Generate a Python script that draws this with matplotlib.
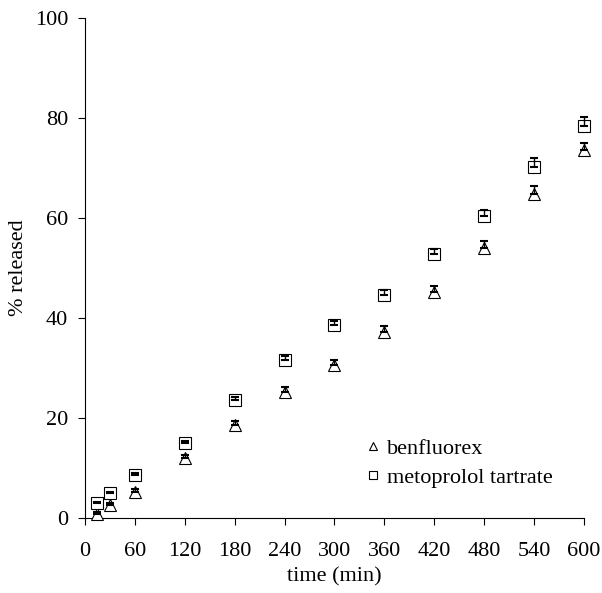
import matplotlib
matplotlib.use("Agg")
import matplotlib.pyplot as plt

plt.rcParams["font.family"] = ["Liberation Serif", "DejaVu Serif"]

time_min = [15, 30, 60, 120, 180, 240, 300, 360, 420, 480, 540, 600]
benfluorex = [0.8, 2.6, 5.2, 12.0, 18.6, 25.2, 30.6, 37.2, 45.2, 54.0, 64.8, 73.6]
benfluorex_err = [0.3, 0.4, 0.5, 0.6, 0.8, 1.0, 1.0, 1.2, 1.2, 1.4, 1.6, 1.4]
metoprolol = [3.0, 5.0, 8.6, 15.0, 23.6, 31.6, 38.6, 44.6, 52.8, 60.4, 70.2, 78.4]
metoprolol_err = [0.2, 0.2, 0.3, 0.4, 0.6, 0.8, 0.8, 1.0, 1.0, 1.2, 1.8, 1.8]

x_ticks = [0, 60, 120, 180, 240, 300, 360, 420, 480, 540, 600]
y_ticks = [0, 20, 40, 60, 80, 100]

fig = plt.figure(figsize=(6.02, 5.93), dpi=100)
ax = fig.add_axes([0.141, 0.1265, 0.829, 0.843])

ax.plot(time_min, benfluorex, linestyle="none", marker="^", ms=9,
        mfc="white", mec="black", mew=0.8, label="benfluorex", clip_on=False, zorder=3)
ax.plot(time_min, metoprolol, linestyle="none", marker="s", ms=8,
        mfc="white", mec="black", mew=0.8, label="metoprolol tartrate", clip_on=False, zorder=3)
zeros = [0] * len(time_min)
ax.errorbar(time_min, benfluorex, yerr=[zeros, benfluorex_err], fmt="none", ecolor="black",
            elinewidth=1, capsize=3, capthick=1.5, clip_on=False, zorder=4)
ax.errorbar(time_min, metoprolol, yerr=[zeros, metoprolol_err], fmt="none", ecolor="black",
            elinewidth=1, capsize=3, capthick=1.5, clip_on=False, zorder=4)

ax.set_xlim(0, 600)
ax.set_ylim(0, 100)
ax.set_xticks(x_ticks)
ax.set_yticks(y_ticks)
ax.spines["top"].set_visible(False)
ax.spines["right"].set_visible(False)
ax.spines["left"].set_linewidth(0.8)
ax.spines["bottom"].set_linewidth(0.8)
ax.tick_params(direction="out", length=5, width=0.8, labelsize=16, pad=7)
ax.tick_params(axis="x", pad=12)
ax.set_xlabel("time (min)", fontsize=16, labelpad=5)
ax.set_ylabel("% released", fontsize=16, labelpad=5)

leg = ax.legend(loc="lower left", bbox_to_anchor=(0.52, 0.02), frameon=False,
                fontsize=16, handlelength=0.8, handletextpad=0.2, labelspacing=0.4,
                markerscale=0.7)

fig.savefig("out.png", dpi=100)
